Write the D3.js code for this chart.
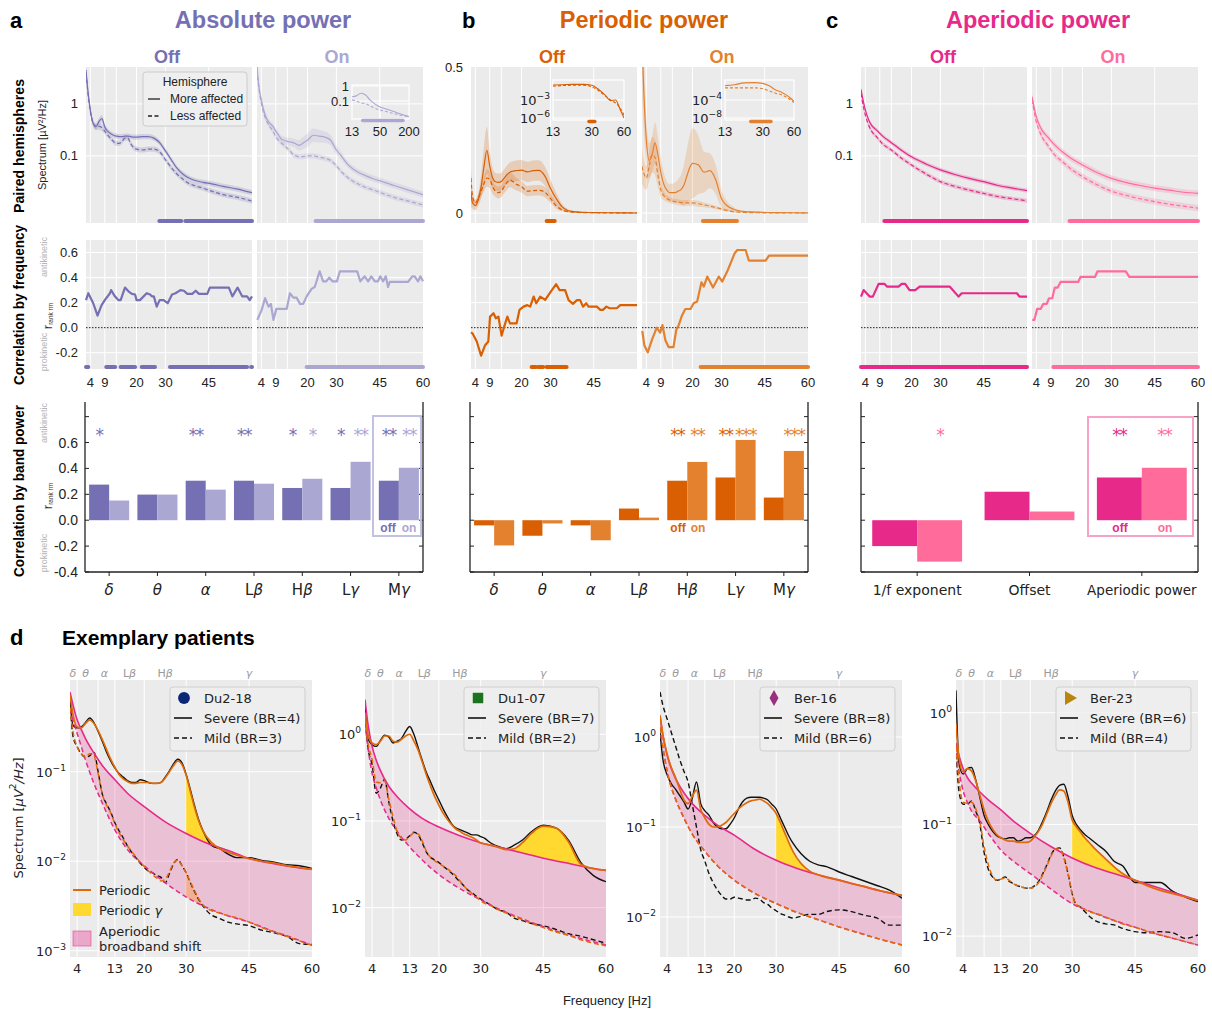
<!DOCTYPE html>
<html><head><meta charset="utf-8">
<script src="https://cdn.jsdelivr.net/npm/d3@7"></script>
<style>body{margin:0;background:#fff}</style>
</head><body>
<svg id="fig" width="1212" height="1010"></svg>
<script>
// ---------------- data: hemisphere spectra (a–c, top row) ----------------
const specFreq = [2.5,3,4,5,6,7,8,9,10,11,12,13,14,15,16,17,18,19,20,22,24,26,28,30,32,34,36,38,40,43,46,50,55,60];
const absOffMore = [4.5,2.2,0.77,0.42,0.37,0.46,0.52,0.36,0.30,0.27,0.25,0.24,0.235,0.235,0.24,0.24,0.235,0.23,0.23,0.235,0.235,0.22,0.18,0.125,0.085,0.058,0.045,0.038,0.034,0.031,0.029,0.026,0.023,0.0196];
const absOffLess = [4.0,2.0,0.72,0.42,0.36,0.37,0.35,0.30,0.25,0.22,0.19,0.175,0.175,0.19,0.22,0.22,0.17,0.145,0.135,0.13,0.135,0.135,0.12,0.085,0.06,0.045,0.036,0.03,0.027,0.024,0.021,0.018,0.016,0.0135];
const absOffCI = [0.1,0.08,0.06,0.06,0.06,0.07,0.07,0.06,0.05,0.05,0.05,0.05,0.05,0.05,0.05,0.05,0.05,0.05,0.05,0.05,0.05,0.05,0.05,0.05,0.05,0.05,0.05,0.05,0.05,0.05,0.05,0.05,0.05,0.05];
const absOnMore = [5.5,2.6,1.2,0.7,0.5,0.42,0.37,0.30,0.25,0.21,0.20,0.19,0.185,0.18,0.17,0.16,0.17,0.185,0.2,0.25,0.24,0.23,0.2,0.13,0.095,0.068,0.055,0.047,0.042,0.036,0.032,0.027,0.022,0.018];
const absOnMoreCI = [0.1,0.08,0.06,0.06,0.06,0.06,0.06,0.06,0.06,0.06,0.07,0.07,0.08,0.08,0.09,0.1,0.11,0.12,0.13,0.13,0.12,0.11,0.1,0.08,0.07,0.06,0.06,0.06,0.06,0.06,0.06,0.06,0.06,0.06];
const absOnLess = [4.5,2.3,1.04,0.62,0.45,0.36,0.30,0.235,0.2,0.175,0.16,0.14,0.125,0.105,0.1,0.097,0.097,0.098,0.1,0.1,0.095,0.09,0.082,0.064,0.048,0.038,0.032,0.028,0.025,0.022,0.019,0.016,0.0135,0.0114];
const absOnLessCI = [0.08,0.06,0.05,0.05,0.05,0.05,0.05,0.05,0.05,0.05,0.05,0.05,0.05,0.05,0.05,0.05,0.05,0.05,0.05,0.05,0.05,0.05,0.05,0.05,0.05,0.05,0.05,0.05,0.05,0.05,0.05,0.05,0.05,0.05];

const perOffMore = [0.07,0.035,0.025,0.045,0.09,0.16,0.215,0.16,0.12,0.107,0.105,0.108,0.12,0.132,0.14,0.143,0.145,0.146,0.147,0.141,0.145,0.146,0.128,0.085,0.05,0.022,0.009,0.005,0.003,0.002,0.0015,0.001,0.0006,0.0003];
const perOffMoreCI = [0.05,0.02,0.015,0.02,0.04,0.07,0.08,0.05,0.035,0.03,0.03,0.03,0.03,0.032,0.033,0.034,0.035,0.035,0.035,0.035,0.035,0.035,0.033,0.03,0.02,0.01,0.005,0.003,0.002,0.001,0.001,0.001,0.001,0.001];
const perOffLess = [0.12,0.06,0.035,0.05,0.075,0.1,0.12,0.115,0.09,0.075,0.07,0.075,0.09,0.105,0.113,0.108,0.1,0.095,0.09,0.075,0.077,0.078,0.072,0.05,0.025,0.011,0.005,0.003,0.002,0.0015,0.001,0.0007,0.0004,0.0002];
const perOffLessCI = [0.04,0.02,0.012,0.015,0.02,0.025,0.03,0.03,0.025,0.02,0.02,0.02,0.022,0.025,0.025,0.025,0.022,0.02,0.02,0.018,0.018,0.018,0.018,0.015,0.01,0.005,0.003,0.002,0.001,0.001,0.001,0.001,0.001,0.001];
const perOnMore = [0.6,0.45,0.25,0.18,0.2,0.24,0.2,0.14,0.1,0.08,0.07,0.07,0.07,0.075,0.08,0.095,0.125,0.155,0.17,0.165,0.14,0.145,0.115,0.05,0.025,0.014,0.008,0.005,0.004,0.003,0.002,0.0015,0.001,0.0005];
const perOnMoreCI = [0.2,0.15,0.08,0.06,0.06,0.07,0.06,0.05,0.04,0.03,0.03,0.03,0.035,0.04,0.05,0.07,0.09,0.11,0.12,0.1,0.07,0.06,0.05,0.03,0.015,0.008,0.004,0.003,0.002,0.002,0.001,0.001,0.001,0.001];
const perOnLess = [0.16,0.14,0.12,0.16,0.2,0.19,0.13,0.08,0.06,0.05,0.045,0.041,0.039,0.037,0.036,0.035,0.035,0.035,0.035,0.032,0.028,0.024,0.019,0.014,0.009,0.005,0.003,0.002,0.0015,0.001,0.0008,0.0006,0.0004,0.0002];
const perOnLessCI = [0.06,0.05,0.04,0.05,0.06,0.06,0.04,0.025,0.015,0.012,0.01,0.01,0.01,0.01,0.01,0.01,0.01,0.01,0.01,0.01,0.008,0.007,0.006,0.005,0.004,0.003,0.002,0.001,0.001,0.001,0.001,0.001,0.001,0.001];

const apFreq = [2.5,3,4,5,6,8,10,13,16,20,25,30,35,40,45,50,55,60];
const apOffMore = [1.9,1.35,0.77,0.52,0.4,0.31,0.24,0.18,0.135,0.096,0.07,0.054,0.044,0.037,0.032,0.027,0.024,0.0215];
const apOffLess = [1.6,1.1,0.61,0.41,0.31,0.23,0.17,0.13,0.095,0.067,0.045,0.032,0.026,0.022,0.019,0.0165,0.015,0.0137];
const apOffCI = [0.04,0.04,0.04,0.04,0.04,0.04,0.04,0.04,0.04,0.04,0.04,0.04,0.04,0.04,0.04,0.04,0.04,0.04];
const apOnMore = [1.38,1.0,0.57,0.4,0.31,0.23,0.17,0.12,0.09,0.067,0.048,0.037,0.031,0.027,0.024,0.022,0.020,0.019];
const apOnLess = [1.2,0.85,0.45,0.31,0.23,0.16,0.11,0.078,0.056,0.04,0.028,0.021,0.0175,0.015,0.0132,0.0118,0.0108,0.0099];
const apOnCI = [0.06,0.06,0.06,0.06,0.06,0.06,0.06,0.06,0.06,0.06,0.06,0.06,0.06,0.06,0.06,0.06,0.06,0.06];

// insets (wide frequency range / log periodic power)
const insetAbsFreq = [13,16,20,25,30,40,50,70,100,140,200];
const insetAbsOnMore = [0.19,0.22,0.33,0.25,0.13,0.06,0.04,0.028,0.019,0.013,0.009];
const insetAbsOnLess = [0.12,0.1,0.075,0.065,0.05,0.032,0.025,0.019,0.014,0.011,0.009];
const insetPerFreq = [13,16,20,25,30,35,40,45,50,55,60];
const insetPerOffMoreLog = [-0.5,-0.45,-0.4,-0.4,-0.55,-1.3,-2.2,-3.1,-3.0,-4.5,-6.0];
const insetPerOffLessLog = [-0.7,-0.6,-0.55,-0.55,-0.8,-1.5,-2.3,-3.0,-3.5,-4.3,-5.5];
const insetPerOnMoreLog = [-0.8,-0.6,-0.2,-0.15,-0.3,-0.9,-1.8,-2.2,-2.8,-3.5,-4.3];
const insetPerOnLessLog = [-1.3,-1.3,-1.3,-1.3,-1.5,-2.0,-2.5,-2.8,-3.3,-3.9,-4.6];

// significant frequency clusters (Hz)
const sigSpecAbsOff = [[27.9,35.5],[36.9,60]];
const sigSpecAbsOn = [[22.8,60]];
const sigInsetAbsOn = [[21.7,150]];
const sigSpecPerOff = [[28.7,31.5]];
const sigInsetPerOff = [[28.2,32]];
const sigSpecPerOn = [[23.6,35.4]];
const sigInsetPerOn = [[23,36]];
const sigSpecApOff = [[10.6,60]];
const sigSpecApOn = [[15.5,60]];

// ---------------- data: correlation by frequency ----------------
const corrAbsOffF = [2.5,3.3,5,6.5,7.9,9,10.8,11.2,12.5,13.7,14.5,16,17.2,18.4,19.5,20,21.2,23.5,24.7,25.3,26,27,28,29.4,30.8,32.3,33.5,35.2,36.4,37.6,39.3,40.5,41.6,44.5,45.4,52,53.2,55,56.6,58.3,59.2,60];
const corrAbsOffR = [0.22,0.275,0.195,0.096,0.18,0.22,0.275,0.30,0.25,0.22,0.22,0.32,0.29,0.27,0.265,0.22,0.22,0.275,0.265,0.25,0.25,0.168,0.22,0.22,0.195,0.265,0.275,0.30,0.295,0.27,0.27,0.295,0.27,0.27,0.32,0.32,0.25,0.32,0.25,0.25,0.22,0.25];
const corrAbsOnF = [2.6,4.1,5.3,6.5,7.3,8.2,9.2,12.8,13.9,15.1,16.2,17.4,18.5,19.7,21.4,22.5,24.2,25.4,26.5,27.5,28.6,30.2,31.2,37.2,38.3,39.8,41,42.1,43.3,44.4,45.2,46.2,47.1,47.9,48.5,54.8,56.3,57.1,58.3,59.1,60];
const corrAbsOnR = [0.062,0.14,0.235,0.168,0.19,0.062,0.15,0.15,0.275,0.24,0.24,0.19,0.19,0.25,0.31,0.325,0.45,0.37,0.37,0.40,0.37,0.37,0.45,0.45,0.37,0.41,0.37,0.41,0.37,0.37,0.41,0.37,0.41,0.325,0.365,0.365,0.41,0.41,0.37,0.41,0.37];
const corrPerOffF = [2.5,3,4.5,6,7.4,8.5,9.1,10.3,11.1,12,13.1,14,15.1,16,18.3,19.3,20.7,22,23,24.2,25.1,26.5,28.2,30.5,32,33.2,35.1,36.3,37.8,39.2,40.3,41.3,42.4,43.2,46.1,47.3,48.2,49.4,50.5,53,54.2,60];
const corrPerOffR = [-0.037,-0.045,-0.11,-0.224,-0.14,-0.11,0.088,0.115,0.075,0.088,-0.064,0.008,0.088,0.035,0.035,0.142,0.168,0.18,0.168,0.248,0.195,0.248,0.222,0.30,0.347,0.30,0.30,0.22,0.19,0.22,0.22,0.168,0.195,0.168,0.168,0.142,0.142,0.168,0.155,0.155,0.18,0.18];
const corrPerOnF = [2.6,3.3,4.5,5.9,7.6,8.8,9.6,10.6,11.7,13.4,14.4,15.2,16.4,17.5,19.3,20.4,21.6,23.1,23.9,25.1,27.1,29.1,30.3,32,34.6,35.5,38.4,39.5,45.3,46.5,60];
const corrPerOnR = [-0.026,-0.14,-0.197,-0.1,0,-0.04,0.02,-0.1,-0.155,-0.155,-0.015,0.02,0.1,0.149,0.149,0.195,0.208,0.362,0.328,0.408,0.32,0.408,0.368,0.448,0.594,0.62,0.62,0.536,0.536,0.576,0.576];
const corrApOffF = [2.5,3.4,5.5,6.6,8.6,10.6,11.5,15.5,16.6,17.8,19.3,21.3,22.8,33.2,36.3,37.4,56.5,57.4,60];
const corrApOffR = [0.248,0.30,0.248,0.248,0.35,0.35,0.328,0.328,0.35,0.35,0.30,0.30,0.328,0.328,0.248,0.275,0.275,0.248,0.248];
const corrApOnF = [2.6,3.3,4.3,5.5,6.4,7.6,8.4,9.5,10.4,11.4,12.4,18.5,19.3,24.3,25.2,35,36.2,60];
const corrApOnR = [0.062,0.062,0.15,0.15,0.19,0.19,0.235,0.235,0.32,0.32,0.365,0.365,0.405,0.405,0.45,0.45,0.405,0.405];
const sigCorrAbsOff = [[2.5,3.3],[9.5,12.6],[14.5,19.5],[21.8,26.4],[31.6,58.3],[59.7,60]];
const sigCorrAbsOn = [[19.7,60]];
const sigCorrPerOff = [[23.5,25],[25.8,27.5],[28.7,35.6]];
const sigCorrPerOn = [[22.8,60]];
const sigCorrApOff = [[2.5,60]];
const sigCorrApOn = [[9.9,60]];

// ---------------- data: correlation by band power ----------------
const bandLabels = ["δ","θ","α","Lβ","Hβ","Lγ","Mγ"];
const absBarOff = [0.275,0.198,0.305,0.305,0.249,0.249,0.305];
const absBarOn  = [0.152,0.198,0.236,0.282,0.32,0.451,0.405];
const absStarsOff = ["*","","**","**","*","*","**"];
const absStarsOn  = ["","","","","*","**","**"];
const perBarOff = [-0.04,-0.12,-0.04,0.09,0.305,0.33,0.175];
const perBarOn  = [-0.195,-0.025,-0.155,0.02,0.45,0.62,0.535];
const perStarsOff = ["","","","","**","**",""];
const perStarsOn  = ["","","","","**","***","***"];
const apBarLabels = ["1/f exponent","Offset","Aperiodic power"];
const apBarOff = [-0.2,0.22,0.33];
const apBarOn  = [-0.32,0.067,0.405];
const apStarsOff = ["","","**"];
const apStarsOn  = ["*","","**"];

// ---------------- data: exemplary patients (log10 µV²/Hz) ----------------
const patApFreq = [2.3,3,4,5,6,8,10,13,16,20,25,30,35,40,45,50,55,60];
const patFreq = [2.3,3,4,5,6,7,8,9,10,11,12,13,14,15,16,17,18,19,20,21,22,23,24,25,26,27,28,29,30,31,32,33,34,36,38,40,42,45,48,51,54,57,60];

const du218SevAp  = [-0.11,-0.25,-0.42,-0.53,-0.63,-0.79,-0.93,-1.09,-1.24,-1.39,-1.56,-1.69,-1.80,-1.88,-1.97,-2.02,-2.06,-2.09];
const du218MildAp = [-0.30,-0.42,-0.57,-0.72,-0.87,-1.13,-1.35,-1.65,-1.87,-2.05,-2.24,-2.40,-2.52,-2.61,-2.68,-2.77,-2.85,-2.94];
const du218SevFit = [-0.14,-0.36,-0.50,-0.51,-0.46,-0.42,-0.46,-0.54,-0.64,-0.75,-0.86,-0.95,-1.03,-1.08,-1.11,-1.13,-1.13,-1.12,-1.12,-1.12,-1.13,-1.13,-1.12,-1.07,-1.00,-0.93,-0.88,-0.92,-1.04,-1.22,-1.40,-1.55,-1.66,-1.79,-1.86,-1.90,-1.93,-1.97,-2.00,-2.02,-2.05,-2.07,-2.09];
const du218SevRaw = [-0.18,-0.48,-0.51,-0.50,-0.45,-0.40,-0.45,-0.55,-0.66,-0.78,-0.88,-0.96,-1.02,-1.06,-1.10,-1.12,-1.12,-1.09,-1.10,-1.12,-1.13,-1.13,-1.12,-1.06,-0.99,-0.91,-0.86,-0.90,-1.03,-1.20,-1.38,-1.54,-1.66,-1.82,-1.86,-1.92,-1.96,-1.96,-1.99,-2.01,-2.04,-2.05,-2.08];
const du218MildFit = [-0.28,-0.55,-0.72,-0.80,-0.83,-0.80,-0.82,-1.02,-1.25,-1.37,-1.46,-1.58,-1.68,-1.76,-1.83,-1.89,-1.95,-2.01,-2.06,-2.11,-2.15,-2.19,-2.22,-2.20,-2.12,-2.02,-1.99,-2.05,-2.13,-2.23,-2.33,-2.42,-2.49,-2.55,-2.58,-2.61,-2.63,-2.68,-2.74,-2.79,-2.84,-2.89,-2.94];
const du218MildRaw = [-0.20,-0.60,-0.72,-0.80,-0.84,-0.82,-0.78,-1.00,-1.25,-1.36,-1.45,-1.57,-1.66,-1.74,-1.83,-1.90,-1.96,-2.02,-2.07,-2.11,-2.13,-2.16,-2.18,-2.24,-2.14,-2.03,-1.98,-2.05,-2.13,-2.24,-2.34,-2.43,-2.50,-2.60,-2.64,-2.68,-2.70,-2.72,-2.77,-2.80,-2.84,-2.92,-2.93];

const du107SevAp  = [0.40,0.12,-0.14,-0.30,-0.42,-0.60,-0.72,-0.86,-0.97,-1.07,-1.17,-1.25,-1.31,-1.37,-1.43,-1.48,-1.53,-1.57];
const du107MildAp = [0.13,-0.15,-0.45,-0.62,-0.76,-0.97,-1.12,-1.30,-1.45,-1.62,-1.78,-1.91,-2.03,-2.13,-2.22,-2.30,-2.37,-2.43];
const du107SevFit = [0.25,0.00,-0.10,-0.12,-0.08,-0.02,-0.02,-0.08,-0.09,-0.06,-0.02,0.00,-0.08,-0.18,-0.32,-0.47,-0.60,-0.72,-0.82,-0.91,-0.98,-1.04,-1.09,-1.12,-1.15,-1.17,-1.19,-1.22,-1.255,-1.265,-1.275,-1.285,-1.30,-1.33,-1.32,-1.25,-1.15,-1.06,-1.08,-1.24,-1.50,-1.55,-1.57];
const du107SevRaw = [0.35,-0.05,-0.12,-0.14,-0.07,-0.01,-0.03,-0.10,-0.08,-0.05,0.03,0.09,0.00,-0.15,-0.30,-0.44,-0.55,-0.66,-0.76,-0.86,-0.95,-1.03,-1.08,-1.10,-1.12,-1.14,-1.16,-1.16,-1.18,-1.20,-1.24,-1.27,-1.29,-1.32,-1.28,-1.22,-1.13,-1.05,-1.08,-1.22,-1.48,-1.63,-1.70];
const du107MildFit = [0.18,-0.10,-0.29,-0.55,-0.56,-0.54,-0.75,-0.95,-1.12,-1.20,-1.22,-1.18,-1.14,-1.15,-1.23,-1.35,-1.42,-1.46,-1.49,-1.52,-1.55,-1.59,-1.63,-1.69,-1.75,-1.80,-1.84,-1.88,-1.92,-1.95,-1.97,-1.99,-2.02,-2.06,-2.10,-2.14,-2.18,-2.23,-2.28,-2.32,-2.37,-2.41,-2.44];
const du107MildRaw = [0.25,-0.15,-0.35,-0.68,-0.62,-0.52,-0.78,-1.00,-1.15,-1.22,-1.21,-1.17,-1.13,-1.16,-1.25,-1.36,-1.42,-1.45,-1.48,-1.52,-1.56,-1.60,-1.65,-1.70,-1.75,-1.80,-1.83,-1.87,-1.90,-1.93,-1.96,-1.99,-2.02,-2.05,-2.12,-2.15,-2.18,-2.21,-2.25,-2.30,-2.33,-2.37,-2.41];

const ber16SevAp  = [0.24,0.02,-0.20,-0.35,-0.46,-0.62,-0.74,-0.87,-0.98,-1.09,-1.25,-1.37,-1.46,-1.53,-1.59,-1.65,-1.71,-1.76];
const ber16MildAp = [0.11,-0.12,-0.38,-0.56,-0.69,-0.90,-1.08,-1.27,-1.43,-1.59,-1.74,-1.85,-1.95,-2.03,-2.11,-2.18,-2.25,-2.31];
const ber16SevFit = [0.24,0.02,-0.19,-0.34,-0.45,-0.58,-0.70,-0.74,-0.66,-0.59,-0.80,-0.90,-0.97,-1.00,-1.00,-0.98,-0.95,-0.90,-0.85,-0.80,-0.76,-0.73,-0.71,-0.70,-0.69,-0.71,-0.74,-0.79,-0.85,-0.95,-1.06,-1.17,-1.27,-1.41,-1.49,-1.53,-1.56,-1.59,-1.63,-1.66,-1.70,-1.73,-1.76];
const ber16SevRaw = [0.05,-0.25,-0.42,-0.52,-0.58,-0.65,-0.72,-0.80,-0.68,-0.50,-0.74,-0.82,-0.87,-0.95,-1.00,-1.02,-1.02,-0.97,-0.90,-0.80,-0.72,-0.68,-0.67,-0.67,-0.67,-0.68,-0.70,-0.75,-0.80,-0.90,-1.00,-1.10,-1.18,-1.30,-1.38,-1.42,-1.44,-1.50,-1.55,-1.60,-1.65,-1.70,-1.79];
const ber16MildFit = [0.11,-0.12,-0.38,-0.56,-0.69,-0.90,-1.08,-1.27,-1.43,-1.59,-1.74,-1.85,-1.95,-2.03,-2.11,-2.18,-2.25,-2.31];
const ber16MildRaw = [0.50,0.35,0.20,0.05,-0.10,-0.25,-0.38,-0.50,-0.75,-1.00,-1.25,-1.38,-1.52,-1.62,-1.70,-1.76,-1.80,-1.80,-1.78,-1.79,-1.80,-1.81,-1.81,-1.79,-1.80,-1.84,-1.86,-1.90,-1.93,-1.96,-1.98,-2.00,-2.01,-1.99,-1.97,-1.97,-1.94,-1.92,-1.94,-1.98,-2.01,-2.09,-2.09];

const ber23SevAp  = [-0.27,-0.38,-0.50,-0.58,-0.63,-0.71,-0.78,-0.87,-0.97,-1.08,-1.20,-1.30,-1.38,-1.44,-1.50,-1.56,-1.62,-1.68];
const ber23MildAp = [-0.36,-0.52,-0.70,-0.80,-0.88,-0.97,-1.08,-1.23,-1.33,-1.44,-1.58,-1.71,-1.79,-1.86,-1.92,-1.98,-2.03,-2.08];
const ber23SevFit = [-0.10,-0.40,-0.53,-0.50,-0.52,-0.61,-0.74,-0.87,-0.97,-1.04,-1.09,-1.12,-1.14,-1.15,-1.15,-1.16,-1.16,-1.16,-1.15,-1.11,-1.06,-0.99,-0.90,-0.81,-0.74,-0.69,-0.70,-0.80,-0.96,-1.02,-1.07,-1.12,-1.16,-1.24,-1.31,-1.38,-1.44,-1.50,-1.55,-1.59,-1.62,-1.65,-1.68];
const ber23SevRaw = [0.20,-0.45,-0.55,-0.50,-0.49,-0.60,-0.76,-0.92,-1.00,-1.06,-1.10,-1.12,-1.13,-1.12,-1.12,-1.15,-1.14,-1.12,-1.12,-1.10,-1.05,-0.97,-0.88,-0.78,-0.70,-0.65,-0.64,-0.75,-0.92,-1.00,-1.05,-1.09,-1.12,-1.18,-1.24,-1.33,-1.37,-1.52,-1.52,-1.52,-1.60,-1.65,-1.69];
const ber23MildFit = [-0.30,-0.60,-0.80,-0.81,-0.80,-0.86,-0.98,-1.20,-1.36,-1.46,-1.50,-1.49,-1.48,-1.50,-1.53,-1.55,-1.56,-1.57,-1.57,-1.56,-1.52,-1.45,-1.37,-1.28,-1.22,-1.22,-1.30,-1.44,-1.62,-1.72,-1.74,-1.76,-1.78,-1.80,-1.83,-1.86,-1.89,-1.92,-1.96,-1.99,-2.02,-2.05,-2.08];
const ber23MildRaw = [-0.30,-0.70,-0.82,-0.82,-0.79,-0.88,-1.00,-1.25,-1.40,-1.47,-1.50,-1.49,-1.47,-1.51,-1.53,-1.55,-1.56,-1.57,-1.57,-1.55,-1.51,-1.44,-1.36,-1.27,-1.22,-1.21,-1.29,-1.44,-1.62,-1.72,-1.74,-1.78,-1.82,-1.87,-1.89,-1.90,-1.93,-1.96,-1.97,-1.96,-1.97,-2.02,-1.99];

const patientNames = ["Du2-18","Du1-07","Ber-16","Ber-23"];
const severeBR = [4,7,8,6];
const mildBR = [3,2,6,4];

// ---------------- drawing ----------------
const SANS = '"Liberation Sans", Arial, Helvetica, sans-serif';
const DJV = '"DejaVu Sans", sans-serif';
const BG = "#ebebeb";
const COL = {absOff:"#7570b3", absOn:"#aba7d3", perOff:"#d95f02", perOn:"#e3812f", apOff:"#e7298a", apOn:"#ff6c9c"};
const svg = d3.select("#fig");
const defs = svg.append("defs");
let uid = 0;
function clipRect(x, y, w, h) {
  const id = "cr" + (uid++);
  defs.append("clipPath").attr("id", id).append("rect").attr("x", x).attr("y", y).attr("width", w).attr("height", h);
  return `url(#${id})`;
}
function txt(g, x, y, s, o = {}) {
  const t = g.append("text").attr("x", x).attr("y", y).text(s)
    .attr("font-family", o.family || SANS).attr("font-size", o.size || 13)
    .attr("fill", o.fill || "#222").attr("text-anchor", o.anchor || "middle")
    .attr("dominant-baseline", o.baseline || "central");
  if (o.weight) t.attr("font-weight", o.weight);
  if (o.style) t.attr("font-style", o.style);
  if (o.length) t.attr("textLength", o.length).attr("lengthAdjust", "spacingAndGlyphs");
  if (o.rotate) t.attr("transform", `rotate(${o.rotate},${x},${y})`);
  return t;
}
function hline(g, x0, x1, y, col, w, dash) {
  return g.append("line").attr("x1", x0).attr("x2", x1).attr("y1", y).attr("y2", y)
    .attr("stroke", col).attr("stroke-width", w || 1).attr("stroke-dasharray", dash || null);
}
function vline(g, x, y0, y1, col, w) {
  return g.append("line").attr("x1", x).attr("x2", x).attr("y1", y0).attr("y2", y1).attr("stroke", col).attr("stroke-width", w || 1);
}
// label where Greek letters are italic (math style)
function greekText(g, x, y, s, size, fill, anchor) {
  const t = g.append("text").attr("x", x).attr("y", y).attr("text-anchor", anchor || "middle")
    .attr("dominant-baseline", "central").attr("font-size", size).attr("fill", fill).attr("font-family", DJV);
  for (const ch of s) {
    const sp = t.append("tspan").text(ch);
    if (/[α-ω]/.test(ch)) sp.attr("font-style", "italic");
  }
  return t;
}
function powText(g, x, y, base, exp, size, anchor) {
  const t = g.append("text").attr("x", x).attr("y", y).attr("text-anchor", anchor || "end")
    .attr("font-family", DJV).attr("font-size", size).attr("fill", "#222");
  t.append("tspan").text(base);
  t.append("tspan").attr("dy", -size * 0.45).attr("font-size", size * 0.7).text(exp);
  return t;
}

// headings
txt(svg, 10, 20, "a", {size: 22, weight: "bold", anchor: "start", fill: "#000"});
txt(svg, 462, 20, "b", {size: 22, weight: "bold", anchor: "start", fill: "#000"});
txt(svg, 826, 20, "c", {size: 22, weight: "bold", anchor: "start", fill: "#000"});
txt(svg, 263, 20, "Absolute power", {size: 23.5, weight: "bold", fill: COL.absOff});
txt(svg, 644, 20, "Periodic power", {size: 23.5, weight: "bold", fill: COL.perOff});
txt(svg, 1038, 20, "Aperiodic power", {size: 23.5, weight: "bold", fill: COL.apOff});
[[167,"Off",COL.absOff],[337,"On",COL.absOn],[552,"Off",COL.perOff],[722,"On",COL.perOn],[943,"Off",COL.apOff],[1113,"On",COL.apOn]]
  .forEach(([x, s, c]) => txt(svg, x, 57, s, {size: 18, weight: "bold", fill: c}));

// row labels
txt(svg, 18, 146, "Paired hemispheres", {size: 15, weight: "bold", rotate: -90, fill: "#000", length: 134});
txt(svg, 18, 305, "Correlation by frequency", {size: 15, weight: "bold", rotate: -90, fill: "#000", length: 160});
txt(svg, 18, 491, "Correlation by band power", {size: 15, weight: "bold", rotate: -90, fill: "#000", length: 172});
txt(svg, 42, 145, "Spectrum [µV²/Hz]", {size: 11, rotate: -90});
function rLabel(cy, yAnti, yPro) {
  txt(svg, 44, yAnti, "antikinetic", {size: 9, rotate: -90, fill: "#b5b5b5"});
  txt(svg, 44, yPro, "prokinetic", {size: 9, rotate: -90, fill: "#b5b5b5"});
  const t = svg.append("text").attr("transform", `translate(47,${cy}) rotate(-90)`).attr("text-anchor", "middle")
    .attr("dominant-baseline", "central").attr("font-family", SANS).attr("fill", "#333");
  t.append("tspan").attr("font-size", 13).text("r");
  t.append("tspan").attr("font-size", 6.5).attr("dy", 3).text("rank rm");
}
rLabel(316, 257, 352);
rLabel(496, 423, 553);

// ---------- top row: spectra ----------
const ROW1 = {t: 67, b: 223}, ROW2 = {t: 240, b: 369};
const cols = {aOff:[86,252], aOn:[257,423], bOff:[471,637], bOn:[642,808], cOff:[861,1027], cOn:[1032,1198]};
const gridFreq = [4, 9, 13, 20, 30, 45];
const logY1 = d3.scaleLog().domain([10 ** -2.29, 10 ** 0.71]).range([ROW1.b, ROW1.t]);
const linY1 = d3.scaleLinear().domain([-0.034, 0.5]).range([ROW1.b, ROW1.t]);

function specPanel(key, y, yGrid, series, sigs, color) {
  const [x0, x1] = cols[key];
  const x = d3.scaleLinear().domain([2.5, 60]).range([x0, x1]);
  const g = svg.append("g");
  g.append("rect").attr("x", x0).attr("y", ROW1.t).attr("width", x1 - x0).attr("height", ROW1.b - ROW1.t).attr("fill", BG);
  gridFreq.forEach(f => vline(g, x(f), ROW1.t, ROW1.b, "#fff"));
  yGrid.forEach(v => hline(g, x0, x1, y(v), "#fff"));
  const inner = g.append("g").attr("clip-path", clipRect(x0, ROW1.t, x1 - x0, ROW1.b - ROW1.t));
  series.forEach(s => {
    const pts = s.f.map((f, i) => {
      const v = s.v[i], c = s.ci[i];
      return s.log ? {f, v, lo: v / 10 ** c, hi: v * 10 ** c} : {f, v, lo: v - c, hi: v + c};
    });
    inner.append("path").datum(pts)
      .attr("d", d3.area().x(d => x(d.f)).y0(d => y(d.lo)).y1(d => y(d.hi)).curve(d3.curveMonotoneX))
      .attr("fill", color).attr("fill-opacity", 0.22);
    inner.append("path").datum(pts)
      .attr("d", d3.line().x(d => x(d.f)).y(d => y(d.v)).curve(d3.curveMonotoneX))
      .attr("fill", "none").attr("stroke", color).attr("stroke-width", 1.2)
      .attr("stroke-dasharray", s.dash ? "4,2.5" : null);
  });
  sigs.forEach(([a, b]) => hline(g, x(a), x(b), 221, color, 4).attr("stroke-linecap", "round"));
  return g;
}
const S = (f, v, ci, log, dash) => ({f, v, ci, log, dash});
specPanel("aOff", logY1, [1, 0.1], [S(specFreq, absOffLess, absOffCI, true, true), S(specFreq, absOffMore, absOffCI, true, false)], sigSpecAbsOff, COL.absOff);
specPanel("aOn", logY1, [1, 0.1], [S(specFreq, absOnLess, absOnLessCI, true, true), S(specFreq, absOnMore, absOnMoreCI, true, false)], sigSpecAbsOn, COL.absOn);
specPanel("bOff", linY1, [0], [S(specFreq, perOffLess, perOffLessCI, false, true), S(specFreq, perOffMore, perOffMoreCI, false, false)], sigSpecPerOff, COL.perOff);
specPanel("bOn", linY1, [0], [S(specFreq, perOnLess, perOnLessCI, false, true), S(specFreq, perOnMore, perOnMoreCI, false, false)], sigSpecPerOn, COL.perOn);
specPanel("cOff", logY1, [1, 0.1], [S(apFreq, apOffLess, apOffCI, true, true), S(apFreq, apOffMore, apOffCI, true, false)], sigSpecApOff, COL.apOff);
specPanel("cOn", logY1, [1, 0.1], [S(apFreq, apOnLess, apOnCI, true, true), S(apFreq, apOnMore, apOnCI, true, false)], sigSpecApOn, COL.apOn);

txt(svg, 78, logY1(1), "1", {anchor: "end"});
txt(svg, 78, logY1(0.1), "0.1", {anchor: "end"});
txt(svg, 463, linY1(0.5), "0.5", {anchor: "end"});
txt(svg, 463, linY1(0), "0", {anchor: "end"});
txt(svg, 853, logY1(1), "1", {anchor: "end"});
txt(svg, 853, logY1(0.1), "0.1", {anchor: "end"});

// hemisphere legend
{
  const g = svg.append("g");
  g.append("rect").attr("x", 143).attr("y", 72).attr("width", 104).attr("height", 54).attr("rx", 3)
    .attr("fill", "#f0f0f0").attr("fill-opacity", 0.9).attr("stroke", "#cccccc");
  txt(g, 195, 82, "Hemisphere", {size: 12});
  hline(g, 148, 160, 99, "#222", 1.3);
  hline(g, 148, 160, 116, "#222", 1.3, "4,2.5");
  txt(g, 170, 99, "More affected", {size: 12, anchor: "start"});
  txt(g, 170, 116, "Less affected", {size: 12, anchor: "start"});
}

// insets
function inset(box, xDom, xTicks, yDom, yTicks, yFmt, series, sigs, color) {
  const x = d3.scaleLog().domain(xDom).range([box[0], box[1]]);
  const y = d3.scaleLog().domain(yDom).range([box[3], box[2]]);
  const g = svg.append("g");
  g.append("rect").attr("x", box[0]).attr("y", box[2]).attr("width", box[1] - box[0]).attr("height", box[3] - box[2])
    .attr("fill", "none").attr("stroke", "#fff").attr("stroke-width", 1.2);
  xTicks.slice(1, -1).forEach(f => vline(g, x(f), box[2], box[3], "#fff"));
  yTicks.forEach(v => hline(g, box[0], box[1], y(v), "#fff"));
  const inner = g.append("g").attr("clip-path", clipRect(box[0], box[2], box[1] - box[0], box[3] - box[2]));
  series.forEach(s => {
    inner.append("path").datum(s.f.map((f, i) => [f, s.v[i]]))
      .attr("d", d3.line().x(d => x(d[0])).y(d => y(d[1])).curve(d3.curveMonotoneX))
      .attr("fill", "none").attr("stroke", color).attr("stroke-width", 1.1).attr("stroke-dasharray", s.dash ? "3,2" : null);
  });
  sigs.forEach(([a, b]) => hline(g, x(a), x(b), box[3] + 1.5, color, 3.5).attr("stroke-linecap", "round"));
  xTicks.forEach(f => txt(g, x(f), 131, String(f), {size: 13}));
  yTicks.forEach(v => yFmt(g, box[0] - 3, y(v), v));
}
inset([352, 409, 85, 119], [13, 200], [13, 50, 200], [10 ** -2.2, 10 ** 0.067], [1, 0.1],
  (g, x, y, v) => txt(g, x, y, v === 1 ? "1" : "0.1", {anchor: "end"}),
  [{f: insetAbsFreq, v: insetAbsOnMore}, {f: insetAbsFreq, v: insetAbsOnLess, dash: true}], sigInsetAbsOn, COL.absOn);
const pow10 = (g, x, y, v) => powText(g, x, y + 5, "10", "−" + Math.round(-Math.log10(v)), 13);
inset([553, 624, 80, 120], [13, 60], [13, 30, 60], [10 ** -6.33, 10 ** 0.33], [1e-3, 1e-6], pow10,
  [{f: insetPerFreq, v: insetPerOffMoreLog.map(d => 10 ** d)}, {f: insetPerFreq, v: insetPerOffLessLog.map(d => 10 ** d), dash: true}], sigInsetPerOff, COL.perOff);
inset([725, 794, 80, 120], [13, 60], [13, 30, 60], [10 ** -8.44, 10 ** 0.44], [1e-4, 1e-8], pow10,
  [{f: insetPerFreq, v: insetPerOnMoreLog.map(d => 10 ** d)}, {f: insetPerFreq, v: insetPerOnLessLog.map(d => 10 ** d), dash: true}], sigInsetPerOn, COL.perOn);

// ---------- middle row: correlation by frequency ----------
const rY = d3.scaleLinear().domain([-0.33, 0.70]).range([ROW2.b, ROW2.t]);
function corrPanel(key, fArr, rArr, sigs, color, labels) {
  const [x0, x1] = cols[key];
  const x = d3.scaleLinear().domain([2.5, 60]).range([x0, x1]);
  const g = svg.append("g");
  g.append("rect").attr("x", x0).attr("y", ROW2.t).attr("width", x1 - x0).attr("height", ROW2.b - ROW2.t).attr("fill", BG);
  gridFreq.forEach(f => vline(g, x(f), ROW2.t, ROW2.b, "#fff"));
  [-0.2, 0.2, 0.4, 0.6].forEach(v => hline(g, x0, x1, rY(v), "#fff"));
  hline(g, x0, x1, rY(0), "#222", 1, "1.5,1.5");
  g.append("path").datum(fArr.map((f, i) => [f, rArr[i]]))
    .attr("d", d3.line().x(d => x(d[0])).y(d => rY(d[1])))
    .attr("fill", "none").attr("stroke", color).attr("stroke-width", 2.2).attr("stroke-linejoin", "round");
  sigs.forEach(([a, b]) => hline(g, x(a), x(b), 367, color, 4).attr("stroke-linecap", "round"));
  labels.forEach(f => txt(g, x(f), 382, String(f), {size: 13}));
}
const offTicks = [4, 9, 20, 30, 45], onTicks = [4, 9, 20, 30, 45, 60];
corrPanel("aOff", corrAbsOffF, corrAbsOffR, sigCorrAbsOff, COL.absOff, offTicks);
corrPanel("aOn", corrAbsOnF, corrAbsOnR, sigCorrAbsOn, COL.absOn, onTicks);
corrPanel("bOff", corrPerOffF, corrPerOffR, sigCorrPerOff, COL.perOff, offTicks);
corrPanel("bOn", corrPerOnF, corrPerOnR, sigCorrPerOn, COL.perOn, onTicks);
corrPanel("cOff", corrApOffF, corrApOffR, sigCorrApOff, COL.apOff, offTicks);
corrPanel("cOn", corrApOnF, corrApOnR, sigCorrApOn, COL.apOn, onTicks);
[-0.2, 0.0, 0.2, 0.4, 0.6].forEach(v => txt(svg, 78, rY(v), v.toFixed(1), {anchor: "end"}));

// ---------- bottom row: correlation by band power ----------
const bY = d3.scaleLinear().domain([-0.4, 0.913]).range([572, 402]);
function barPanel(x0, x1, cats, off, on, sOff, sOn, cOff, cOn, padIn, padOut, labeler) {
  const g = svg.append("g");
  const xb = d3.scaleBand().domain(cats).range([x0, x1]).paddingInner(padIn).paddingOuter(padOut);
  const bw = xb.bandwidth() / 2;
  cats.forEach((c, i) => {
    const bx = xb(c);
    [[off[i], cOff, 0, sOff[i]], [on[i], cOn, 1, sOn[i]]].forEach(([v, col, k, st]) => {
      g.append("rect").attr("x", bx + k * bw).attr("width", bw)
        .attr("y", Math.min(bY(v), bY(0))).attr("height", Math.abs(bY(v) - bY(0))).attr("fill", col);
      if (st) txt(g, bx + k * bw + bw / 2, 441, st, {size: 17, family: DJV, fill: col, baseline: "alphabetic"}).attr("letter-spacing", -1.5);
    });
    vline(g, bx + bw, 572, 576, "#222", 1);
    labeler(g, bx + bw, 590, c);
  });
  [-0.4, -0.2, 0, 0.2, 0.4, 0.6, 0.8].forEach(v => {
    hline(g, x0, x0 + 4, bY(v), "#222", 1);
    hline(g, x1 - 4, x1, bY(v), "#222", 1);
  });
  vline(g, x0, 402, 572, "#222", 1.3);
  vline(g, x1, 402, 572, "#222", 1.3);
  hline(g, x0, x1, 572, "#222", 1.3);
  return xb;
}
const greekLab = (g, x, y, c) => greekText(g, x, y, c, 15, "#222");
barPanel(85, 423, bandLabels, absBarOff, absBarOn, absStarsOff, absStarsOn, COL.absOff, COL.absOn, 0.17, 0.085, greekLab);
barPanel(470, 808, bandLabels, perBarOff, perBarOn, perStarsOff, perStarsOn, COL.perOff, COL.perOn, 0.17, 0.085, greekLab);
barPanel(861, 1198, apBarLabels, apBarOff, apBarOn, apStarsOff, apStarsOn, COL.apOff, COL.apOn, 0.2, 0.1,
  (g, x, y, c) => txt(g, x, y, c, {size: c.length > 12 ? 13.5 : 14, family: DJV}));
[-0.4, -0.2, 0.0, 0.2, 0.4, 0.6].forEach(v => txt(svg, 78, bY(v), v.toFixed(1), {size: 14, anchor: "end"}));
// highlighted band boxes with off/on keys
svg.append("rect").attr("x", 373).attr("y", 416).attr("width", 48).attr("height", 120).attr("fill", "none").attr("stroke", "#c3c1e2").attr("stroke-width", 2);
svg.append("rect").attr("x", 1088).attr("y", 417).attr("width", 105).attr("height", 119).attr("fill", "none").attr("stroke", "#f7a3c8").attr("stroke-width", 2);
[[388, "off", COL.absOff], [409, "on", COL.absOn], [678, "off", COL.perOff], [698, "on", COL.perOn], [1120, "off", COL.apOff], [1165, "on", COL.apOn]]
  .forEach(([x, s, c]) => txt(svg, x, 528, s, {size: 12, weight: "bold", fill: c}));

// ---------- d: exemplary patients ----------
txt(svg, 10, 637, "d", {size: 22, weight: "bold", anchor: "start", fill: "#000"});
txt(svg, 62, 637, "Exemplary patients", {size: 21, weight: "bold", anchor: "start", fill: "#000"});
txt(svg, 607, 1000, "Frequency [Hz]", {size: 13});
{
  const t = svg.append("text").attr("transform", "translate(18,818) rotate(-90)").attr("text-anchor", "middle")
    .attr("dominant-baseline", "central").attr("font-family", DJV).attr("font-size", 13).attr("fill", "#222");
  t.append("tspan").text("Spectrum [");
  t.append("tspan").attr("font-style", "italic").text("μV");
  t.append("tspan").attr("font-size", 9).attr("dy", -5).text("2");
  t.append("tspan").attr("font-style", "italic").attr("dy", 5).text("/Hz");
  t.append("tspan").text("]");
}
const patients = [
  {sevAp: du218SevAp, mildAp: du218MildAp, sevFit: du218SevFit, sevRaw: du218SevRaw, mildFit: du218MildFit, mildFitF: patFreq, mildRaw: du218MildRaw},
  {sevAp: du107SevAp, mildAp: du107MildAp, sevFit: du107SevFit, sevRaw: du107SevRaw, mildFit: du107MildFit, mildFitF: patFreq, mildRaw: du107MildRaw},
  {sevAp: ber16SevAp, mildAp: ber16MildAp, sevFit: ber16SevFit, sevRaw: ber16SevRaw, mildFit: ber16MildFit, mildFitF: patApFreq, mildRaw: ber16MildRaw},
  {sevAp: ber23SevAp, mildAp: ber23MildAp, sevFit: ber23SevFit, sevRaw: ber23SevRaw, mildFit: ber23MildFit, mildFitF: patFreq, mildRaw: ber23MildRaw}
];
const patLayout = [
  {x0: 70, x1: 312, lo: -3.07, hi: 0.025, exps: [-3, -2, -1]},
  {x0: 365, x1: 606, lo: -2.569, hi: 0.626, exps: [-2, -1, 0]},
  {x0: 660, x1: 902, lo: -2.444, hi: 0.633, exps: [-2, -1, 0]},
  {x0: 956, x1: 1198, lo: -2.187, hi: 0.293, exps: [-2, -1, 0]}
];
const markerStyle = [
  {shape: d3.symbolCircle, size: 110, color: "#0b2677"},
  {shape: d3.symbolSquare, size: 110, color: "#1b7320"},
  {shape: "diamond", color: "#9a2f80"},
  {shape: "triangle", color: "#b8860b"}
];
const bandMarks = [["δ", 3], ["θ", 6], ["α", 10.5], ["Lβ", 16.5], ["Hβ", 25], ["γ", 45]];
const T = 680, B = 957;
const FIT = "#df6a0a", PINK = "#e7298a";

patients.forEach((p, k) => {
  const L = patLayout[k];
  const x = d3.scaleLinear().domain([2.3, 60]).range([L.x0, L.x1]);
  const y = d3.scaleLog().domain([10 ** L.lo, 10 ** L.hi]).range([B, T]);
  const g = svg.append("g");
  g.append("rect").attr("x", L.x0).attr("y", T).attr("width", L.x1 - L.x0).attr("height", B - T).attr("fill", BG);
  gridFreq.forEach(f => vline(g, x(f), T, B, "#fff"));
  L.exps.forEach(e => hline(g, L.x0, L.x1, y(10 ** e), "#fff"));
  L.exps.forEach(e => powText(g, L.x0 - 4, y(10 ** e) + 5, "10", e === 0 ? "0" : "−" + (-e), 13));
  [4, 13, 20, 30, 45, 60].forEach(f => txt(g, x(f), 968, String(f), {size: 13, family: DJV}));
  bandMarks.forEach(([s, f]) => greekText(g, x(f), 673, s, 11, "#9a9a9a"));

  const inner = g.append("g").attr("clip-path", clipRect(L.x0, T, L.x1 - L.x0, B - T));
  const P = (fa, va) => fa.map((f, i) => [f, va[i]]);
  const line = d3.line().x(d => x(d[0])).y(d => y(10 ** d[1])).curve(d3.curveMonotoneX);
  // aperiodic broadband shift
  inner.append("path").datum(patApFreq.map((f, i) => [f, p.sevAp[i], p.mildAp[i]]))
    .attr("d", d3.area().x(d => x(d[0])).y0(d => y(10 ** d[2])).y1(d => y(10 ** d[1])).curve(d3.curveMonotoneX))
    .attr("fill", PINK).attr("fill-opacity", 0.22);
  // periodic gamma: between fit and aperiodic component above 30 Hz
  function gammaFill(fitF, fitV, apV, color, op) {
    const id = "gc" + (uid++);
    defs.append("clipPath").attr("id", id).append("path")
      .attr("d", d3.area().x(d => x(d[0])).y0(T).y1(d => y(10 ** d[1])).curve(d3.curveMonotoneX)(P(patApFreq, apV)));
    const seg = P(fitF, fitV).filter(d => d[0] >= 30);
    inner.append("g").attr("clip-path", `url(#${id})`).append("path")
      .attr("d", d3.area().x(d => x(d[0])).y0(B).y1(d => y(10 ** d[1])).curve(d3.curveMonotoneX)(seg))
      .attr("fill", color).attr("fill-opacity", op);
  }
  gammaFill(patFreq, p.sevFit, p.sevAp, "#ffd92f", 1);
  gammaFill(p.mildFitF, p.mildFit, p.mildAp, "#f7a35c", 0.55);
  const draw = (d, col, w, dash) => inner.append("path").attr("d", line(d)).attr("fill", "none")
    .attr("stroke", col).attr("stroke-width", w).attr("stroke-dasharray", dash || null);
  draw(P(patFreq, p.mildRaw), "#111", 1.4, "5,3");
  draw(P(patFreq, p.sevRaw), "#111", 1.4);
  draw(P(patApFreq, p.mildAp), PINK, 1.5, "5,3");
  draw(P(patApFreq, p.sevAp), PINK, 1.6);
  draw(P(p.mildFitF, p.mildFit), FIT, 1.5, "5,3");
  draw(P(patFreq, p.sevFit), FIT, 1.7);

  // patient legend
  const bx = L.x1 - 142;
  g.append("rect").attr("x", bx).attr("y", 687).attr("width", 135).attr("height", 64).attr("rx", 3)
    .attr("fill", "#efefef").attr("fill-opacity", 0.85).attr("stroke", "#cfcfcf");
  const m = markerStyle[k], mx = bx + 14, my = 698;
  if (m.shape === "diamond") g.append("path").attr("d", `M${mx},${my - 8}L${mx + 4.5},${my}L${mx},${my + 8}L${mx - 4.5},${my}Z`).attr("fill", m.color);
  else if (m.shape === "triangle") g.append("path").attr("d", `M${mx - 5},${my - 7}L${mx + 7},${my}L${mx - 5},${my + 7}Z`).attr("fill", m.color);
  else g.append("path").attr("transform", `translate(${mx},${my})`).attr("d", d3.symbol(m.shape, m.size)()).attr("fill", m.color);
  txt(g, bx + 34, 698, patientNames[k], {size: 13, family: DJV, anchor: "start"});
  hline(g, bx + 4, bx + 22, 718, "#111", 1.6);
  txt(g, bx + 34, 718, `Severe (BR=${severeBR[k]})`, {size: 13, family: DJV, anchor: "start"});
  hline(g, bx + 4, bx + 22, 738, "#111", 1.6, "5,3");
  txt(g, bx + 34, 738, `Mild (BR=${mildBR[k]})`, {size: 13, family: DJV, anchor: "start"});
});

// component legend (first patient)
{
  const g = svg.append("g");
  hline(g, 73, 91, 890, FIT, 2);
  txt(g, 99, 890, "Periodic", {size: 13, family: DJV, anchor: "start"});
  g.append("rect").attr("x", 73).attr("y", 903).attr("width", 18).attr("height", 13).attr("fill", "#ffd92f");
  const t = txt(g, 99, 910, "Periodic ", {size: 13, family: DJV, anchor: "start"});
  t.append("tspan").attr("font-style", "italic").text("γ");
  g.append("rect").attr("x", 73).attr("y", 931).attr("width", 18).attr("height", 15).attr("fill", PINK).attr("fill-opacity", 0.35)
    .attr("stroke", PINK).attr("stroke-opacity", 0.5);
  txt(g, 99, 931, "Aperiodic", {size: 13, family: DJV, anchor: "start"});
  txt(g, 99, 946, "broadband shift", {size: 13, family: DJV, anchor: "start"});
}
</script>
</body></html>
